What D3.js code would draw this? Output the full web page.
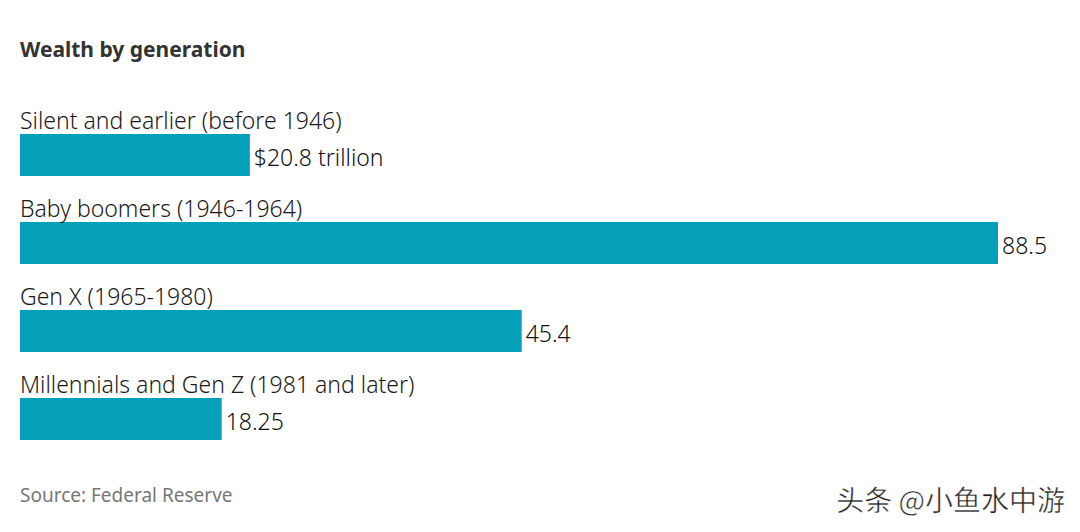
<!DOCTYPE html>
<html><head><meta charset="utf-8">
<script src="https://cdn.jsdelivr.net/npm/d3@7"></script>
<style>body{margin:0;background:#fff;} svg{display:block;}</style>
</head><body>
<svg id="c" width="1080" height="532"></svg>
<script>
const categories = ["Silent and earlier (before 1946)", "Baby boomers (1946-1964)", "Gen X (1965-1980)", "Millennials and Gen Z (1981 and later)"];
const values = [20.8, 88.5, 45.4, 18.25];
const valueLabels = ["$20.8 trillion", "88.5", "45.4", "18.25"];
const title = "Wealth by generation";
const source = "Source: Federal Reserve";
const watermark = "头条 @小鱼水中游";

const svg = d3.select("#c");
const x = d3.scaleLinear().domain([0, 88.5]).range([20, 998]);
const y = d3.scaleBand().domain(categories).range([134, 440]).paddingInner(46/88).paddingOuter(0);
const font = "'Noto Sans', sans-serif";

svg.append("text").attr("x", 20).attr("y", 57).text(title)
  .attr("font-family", font).attr("font-weight", 700).attr("font-size", 21).attr("fill", "#333");

const g = svg.append("g");
g.selectAll("rect").data(categories).join("rect")
  .attr("x", x(0)).attr("y", d => y(d)).attr("width", (d, i) => x(values[i]) - x(0))
  .attr("height", y.bandwidth()).attr("fill", "#07a0bb");

g.selectAll("text.cat").data(categories).join("text").attr("class", "cat")
  .attr("x", 20).attr("y", d => y(d) - 5).text(d => d)
  .attr("font-family", font).attr("font-weight", 300).attr("font-size", 23).attr("fill", "#1a1a1a");

g.selectAll("text.val").data(categories).join("text").attr("class", "val")
  .attr("x", (d, i) => x(values[i]) + 4).attr("y", d => y(d) + y.bandwidth() / 2 + 11).text((d, i) => valueLabels[i])
  .attr("font-family", font).attr("font-weight", 300).attr("font-size", 23).attr("fill", "#111");

svg.append("text").attr("x", 20).attr("y", 502).text(source)
  .attr("font-family", font).attr("font-size", 19).attr("fill", "#777");

svg.append("text").attr("x", 1065).attr("y", 511).attr("text-anchor", "end").text(watermark)
  .attr("font-family", "'Noto Sans CJK SC', sans-serif").attr("font-size", 28).attr("fill", "#222")
  .attr("stroke", "#fff").attr("stroke-width", 0.5);
</script>
</body></html>
